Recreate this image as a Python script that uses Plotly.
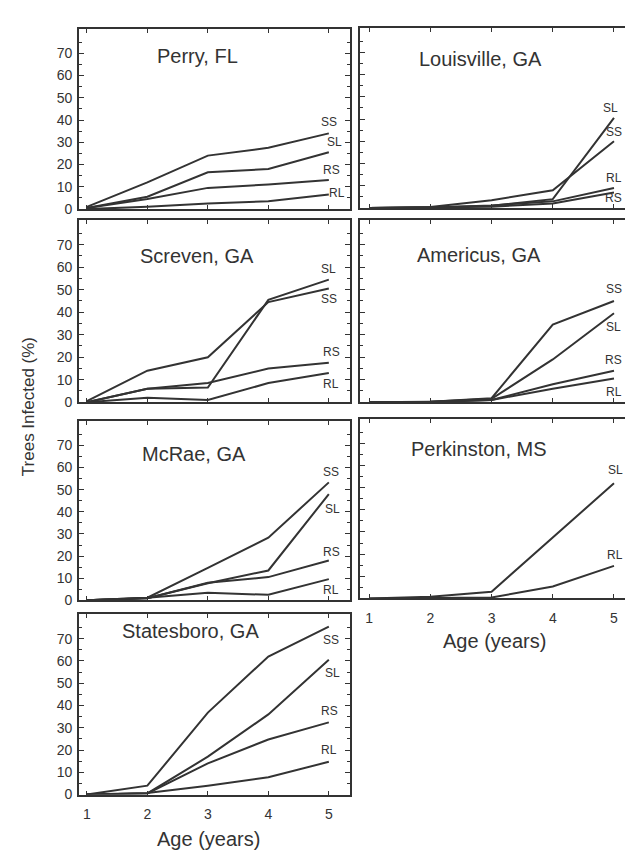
import plotly.graph_objects as go

# ---------------- data ----------------
ages = [1, 2, 3, 4, 5]
x_tick_labels = ["1", "2", "3", "4", "5"]
y_tick_values = [0, 10, 20, 30, 40, 50, 60, 70]

perry_ss = [1, 12, 24, 27.5, 34]
perry_sl = [0.5, 5.5, 16.5, 18, 25.5]
perry_rs = [0.5, 4.5, 9.5, 11, 13]
perry_rl = [0, 1, 2.5, 3.5, 6.5]

louisville_sl = [0, 0.3, 1, 4, 40.5]
louisville_ss = [0, 0.5, 3.5, 8, 30]
louisville_rl = [0, 0.3, 1.2, 3, 9]
louisville_rs = [0, 0.2, 0.6, 2, 7]

screven_sl = [0, 6, 6.5, 45.5, 54.5]
screven_ss = [0.5, 14, 20, 44.5, 50.5]
screven_rs = [0, 6, 8.5, 15, 17.5]
screven_rl = [0, 2, 1, 8.5, 13]

americus_ss = [0, 0.2, 1.8, 34.5, 45]
americus_sl = [0, 0.2, 1.5, 19, 39.5]
americus_rs = [0, 0.2, 1, 8, 14]
americus_rl = [0, 0, 1, 6, 10.5]

mcrae_ss = [0, 1.2, 14.7, 28.3, 53.3]
mcrae_sl = [0, 1, 7.7, 13.5, 48]
mcrae_rs = [0, 1, 8, 10.5, 18]
mcrae_rl = [0, 1.2, 3.4, 2.5, 9.6]

perkinston_sl = [0, 0.7, 3, 27.5, 52]
perkinston_rl = [0, 0.3, 0.4, 5.4, 14.7]

statesboro_ss = [0, 4, 36.8, 62, 75.4]
statesboro_sl = [0, 0.5, 17, 36, 60.5]
statesboro_rs = [0, 0.5, 14, 24.7, 32.4]
statesboro_rl = [0, 0.7, 4, 7.8, 14.7]

# ---------------- layout helpers ----------------
W, H = 625, 860
INK = "#333333"
FONT = "Liberation Sans, Arial, sans-serif"

def px_x(p):
    return p / W

def px_y(p):
    return 1 - p / H

# panel: (title, column, top px, bottom px, title centre px, series)
# series: (label, values, label dx in years, label yshift px)
panels = [
    ("Perry, FL", "L", 29, 211, (197, 57), [
        ("SS", perry_ss, 0.0, 11), ("SL", perry_sl, 0.1, 10),
        ("RS", perry_rs, 0.05, 10), ("RL", perry_rl, 0.14, 2)]),
    ("Louisville, GA", "R", 28, 210, (481, 60), [
        ("SL", louisville_sl, -0.05, 10), ("SS", louisville_ss, 0.0, 9),
        ("RL", louisville_rl, 0.0, 10), ("RS", louisville_rs, 0.0, -6)]),
    ("Screven, GA", "L", 222, 406, (197, 258), [
        ("SL", screven_sl, 0.0, 11), ("SS", screven_ss, 0.0, -10),
        ("RS", screven_rs, 0.04, 11), ("RL", screven_rl, 0.03, -11)]),
    ("Americus, GA", "R", 222, 406, (479, 257), [
        ("SS", americus_ss, 0.0, 12), ("SL", americus_sl, 0.0, -14),
        ("RS", americus_rs, 0.0, 11), ("RL", americus_rl, 0.0, -13)]),
    ("McRae, GA", "L", 425, 606, (194, 458), [
        ("SS", mcrae_ss, 0.04, 10), ("SL", mcrae_sl, 0.06, -15),
        ("RS", mcrae_rs, 0.04, 9), ("RL", mcrae_rl, 0.04, -11)]),
    ("Perkinston, MS", "R", 423, 604, (479, 453), [
        ("SL", perkinston_sl, 0.02, 13), ("RL", perkinston_rl, 0.02, 11)]),
    ("Statesboro, GA", "L", 620, 802, (190, 637), [
        ("SS", statesboro_ss, 0.03, -13), ("SL", statesboro_sl, 0.06, -13),
        ("RS", statesboro_rs, 0.01, 11), ("RL", statesboro_rl, 0.0, 12)]),
]

col_dom = {"L": (79, 350), "R": (360, 625)}
col_xrange = {"L": [0.87, 5.35], "R": [0.85, 5.18]}
bottom_panels = {"Perkinston, MS", "Statesboro, GA"}

fig = go.Figure()
layout = dict(
    width=W, height=H,
    margin=dict(l=0, r=0, t=0, b=0),
    paper_bgcolor="white", plot_bgcolor="white",
    showlegend=False,
    font=dict(family=FONT, color=INK),
)
annotations = []

for i, (title, col, top, bot, tpos, series) in enumerate(panels, start=1):
    xa = "x" if i == 1 else f"x{i}"
    ya = "y" if i == 1 else f"y{i}"
    xkey = "xaxis" if i == 1 else f"xaxis{i}"
    ykey = "yaxis" if i == 1 else f"yaxis{i}"
    left, right = col_dom[col]
    layout[xkey] = dict(
        domain=[px_x(left), px_x(right)], anchor=ya,
        range=col_xrange[col], tickvals=ages, ticktext=x_tick_labels,
        ticks="inside", ticklen=4, tickwidth=1.2, tickcolor=INK,
        showline=True, linecolor=INK, linewidth=1.8, mirror="ticks",
        showgrid=False, zeroline=False,
        showticklabels=title in bottom_panels,
        tickfont=dict(size=14, family=FONT, color=INK),
        ticklabelstandoff=6,
    )
    layout[ykey] = dict(
        domain=[px_y(bot), px_y(top)], anchor=xa,
        range=[0, 81], tickvals=y_tick_values,
        ticks="inside", ticklen=5, tickwidth=1.2, tickcolor=INK,
        minor=dict(tickvals=[v + 5 for v in y_tick_values], ticks="inside",
                   ticklen=3, tickcolor=INK, tickwidth=1),
        showline=True, linecolor=INK, linewidth=1.8,
        mirror="ticks" if col == "L" else False,
        showgrid=False, zeroline=False,
        showticklabels=col == "L",
        tickfont=dict(size=14, family=FONT, color=INK),
        ticklabelstandoff=2,
    )
    for name, vals, dx, dy in series:
        fig.add_trace(go.Scatter(
            x=ages, y=vals, mode="lines", xaxis=xa, yaxis=ya,
            line=dict(color=INK, width=2), name=name, cliponaxis=False,
        ))
        annotations.append(dict(
            x=ages[-1] + dx, y=vals[-1], xref=xa, yref=ya,
            text=name, showarrow=False, yshift=dy,
            xanchor="center", yanchor="middle",
            font=dict(size=12, family=FONT, color=INK),
        ))
    annotations.append(dict(
        x=px_x(tpos[0]), y=px_y(tpos[1]), xref="paper", yref="paper",
        text=title, showarrow=False, xanchor="center", yanchor="middle",
        font=dict(size=20, family=FONT, color=INK),
    ))

annotations.append(dict(
    x=px_x(28), y=px_y(411), xref="paper", yref="paper",
    text="Trees Infected (%)", textangle=-90, showarrow=False,
    xanchor="center", yanchor="middle",
    font=dict(size=17, family=FONT, color=INK),
))
annotations.append(dict(
    x=px_x(209), y=px_y(847), xref="paper", yref="paper",
    text="Age (years)", showarrow=False, xanchor="center", yanchor="middle",
    font=dict(size=20, family=FONT, color=INK),
))
annotations.append(dict(
    x=px_x(494), y=px_y(647), xref="paper", yref="paper",
    text="Age (years)", showarrow=False, xanchor="center", yanchor="middle",
    font=dict(size=20, family=FONT, color=INK),
))

layout["annotations"] = annotations
fig.update_layout(**layout)
fig.write_html(
    "out.html",
    config={"displayModeBar": False},
    post_script="document.body.style.margin='0';document.body.style.overflow='hidden';",
)
